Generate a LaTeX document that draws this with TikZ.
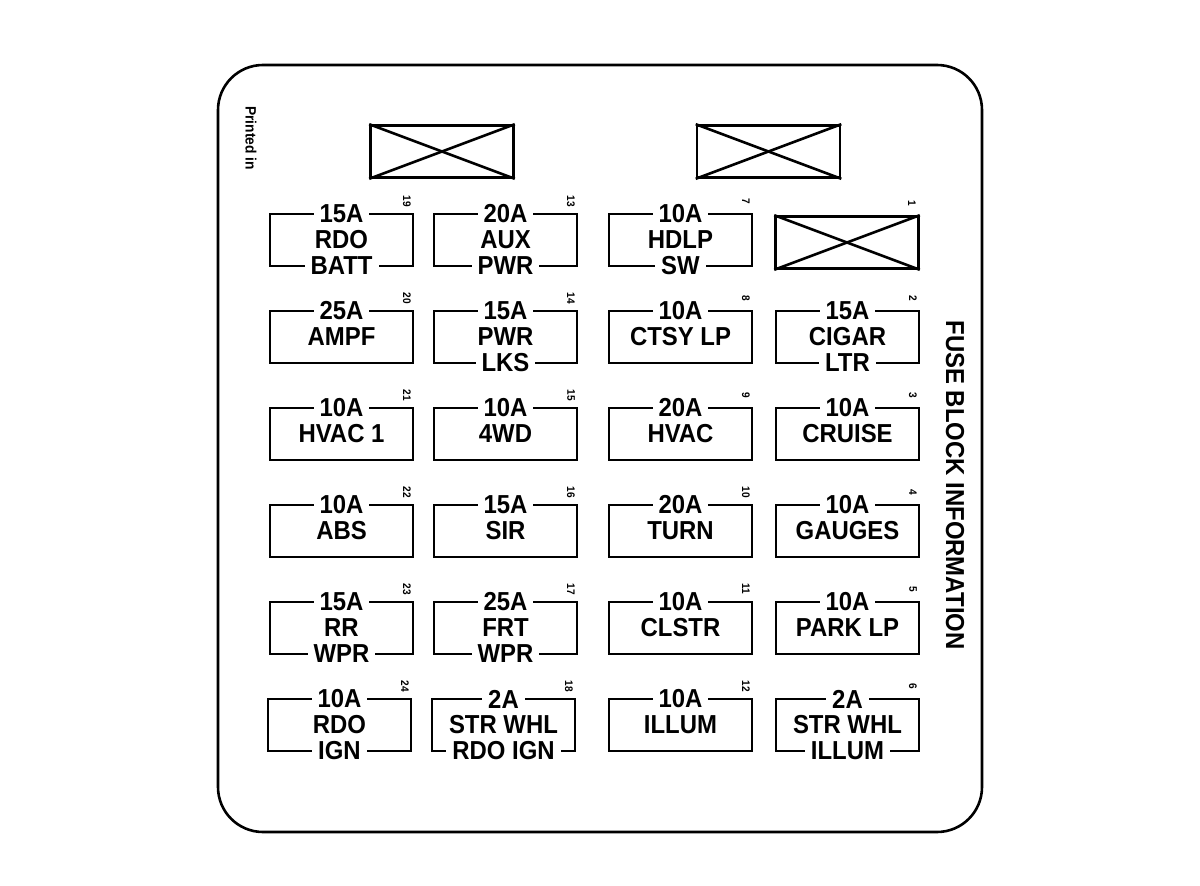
\documentclass[tikz,border=0pt]{standalone}
\usepackage{fontspec}
\newfontfamily\lab{Liberation Sans}[FakeStretch=0.92]
\tikzset{
  fz/.style={line width=2.6pt},
  amp/.style={font=\lab\bfseries\fontsize{26}{26}\selectfont, fill=white, inner xsep=6pt, inner ysep=0pt},
  mid/.style={font=\lab\bfseries\fontsize{26}{26}\selectfont, inner sep=0pt},
  num/.style={font=\lab\bfseries\fontsize{11}{11}\selectfont, rotate=-90, inner sep=0pt},
  xbox/.style={draw, line width=2.6pt, minimum width=143pt, minimum height=52pt, inner sep=0pt},
}
\newcommand\fusebox[6]{%
  \draw[fz] (#1,#2) rectangle ++(143,52);
  \node[amp] (a#6) at (#1+71.5,#2) {#3};
  \node[mid] (m#6) at (#1+71.5,#2+26) {#4};
  \if\relax\detokenize{#5}\relax\else\node[amp] (b#6) at (#1+71.5,#2+52) {#5};\fi
  \node[num] (n#6) at (#1+137,#2-13) {#6};
}
\begin{document}
\begin{tikzpicture}[x=1pt,y=-1pt]
\useasboundingbox (0,0) rectangle (1200,886);
\fill[white] (0,0) rectangle (1200,886);
\draw[line width=2.6pt, rounded corners=45pt] (218,65) rectangle (982,832);
\node[font=\lab\bfseries\fontsize{15}{15}\selectfont, rotate=-90, inner sep=0pt] (pr) at (251,138) {Printed in};
\node[font=\lab\bfseries\fontsize{26}{26}\selectfont, rotate=-90, inner sep=0pt] (title) at (955,485) {FUSE BLOCK INFORMATION};
% top crossed boxes
\node[xbox] (x1) at (442,151.5) {};
\node[xbox] (x2) at (768.5,151.5) {};
\node[xbox] (x3) at (847,242.5) {};
\foreach \b in {x1,x2,x3}{
  \draw[fz] (\b.north west) -- (\b.south east);
  \draw[fz] (\b.south west) -- (\b.north east);
}
\node[num] (n1) at (912,203) {1};
% row 1
\fusebox{270}{214}{15A}{RDO}{BATT}{19}
\fusebox{434}{214}{20A}{AUX}{PWR}{13}
\fusebox{609}{214}{10A}{HDLP}{SW}{7}
% row 2
\fusebox{270}{311}{25A}{AMPF}{}{20}
\fusebox{434}{311}{15A}{PWR}{LKS}{14}
\fusebox{609}{311}{10A}{CTSY LP}{}{8}
\fusebox{776}{311}{15A}{CIGAR}{LTR}{2}
% row 3
\fusebox{270}{408}{10A}{HVAC 1}{}{21}
\fusebox{434}{408}{10A}{4WD}{}{15}
\fusebox{609}{408}{20A}{HVAC}{}{9}
\fusebox{776}{408}{10A}{CRUISE}{}{3}
% row 4
\fusebox{270}{505}{10A}{ABS}{}{22}
\fusebox{434}{505}{15A}{SIR}{}{16}
\fusebox{609}{505}{20A}{TURN}{}{10}
\fusebox{776}{505}{10A}{GAUGES}{}{4}
% row 5
\fusebox{270}{602}{15A}{RR}{WPR}{23}
\fusebox{434}{602}{25A}{FRT}{WPR}{17}
\fusebox{609}{602}{10A}{CLSTR}{}{11}
\fusebox{776}{602}{10A}{PARK LP}{}{5}
% row 6
\fusebox{268}{699}{10A}{RDO}{IGN}{24}
\fusebox{432}{699}{2A}{STR WHL}{RDO IGN}{18}
\fusebox{609}{699}{10A}{ILLUM}{}{12}
\fusebox{776}{699}{2A}{STR WHL}{ILLUM}{6}
\end{tikzpicture}
\end{document}
